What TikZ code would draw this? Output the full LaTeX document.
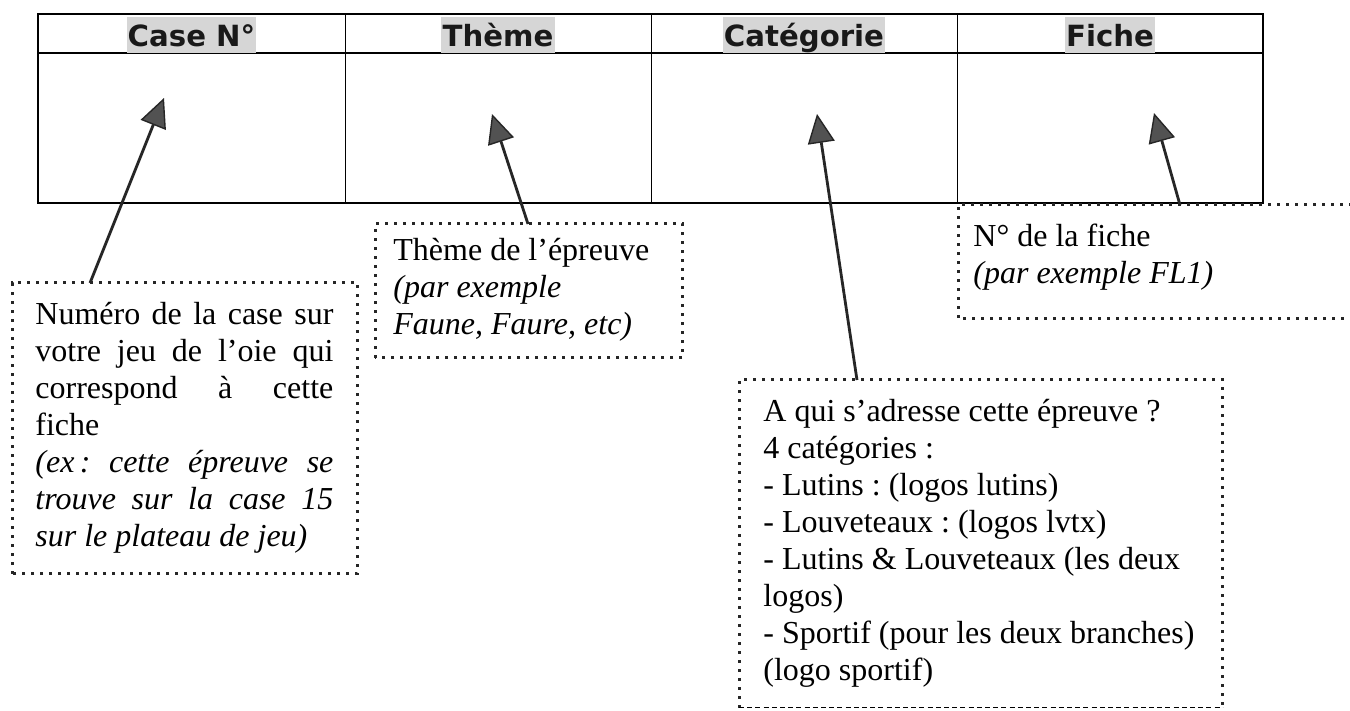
\documentclass[tikz,border=0pt]{standalone}
\usepackage{fontspec}
\setmainfont{Liberation Serif}
\newfontfamily\hdrfont{DejaVu Sans}
\usetikzlibrary{arrows.meta}
\begin{document}
\begin{tikzpicture}[x=0.5pt,y=-0.5pt,
  hdr/.style={font=\hdrfont\bfseries\fontsize{14.6pt}{16pt}\selectfont, fill=black!16, inner xsep=0.6pt, inner ysep=0pt, text height=15pt, text depth=3pt, anchor=base, text=black!90},
  box/.style={draw=none, anchor=north west, inner sep=0pt},
  dotb/.style={line width=1.5pt, black!85, dash pattern=on 1.5pt off 3pt},
  txt/.style={inner sep=0pt, anchor=base west, font=\fontsize{16pt}{18.5pt}\selectfont},
  arr/.style={line width=1.4pt, black!85, -{Triangle[length=14.5pt,width=13.5pt,fill=black!68,line width=0.7pt]}},
  tline/.style={line width=0.9pt},
  vline/.style={line width=0.45pt}]
\useasboundingbox (0,0) rectangle (1350,711);
\fill[white] (0,0) rectangle (1350,711);
% table
\draw[tline] (38,14) rectangle (1263,203);
\draw[tline] (38,53) -- (1263,53);
\foreach \x in {345,651,957} \draw[vline] (\x,14) -- (\x,203);
% headers
\node[hdr] (h1) at (191.5,47) {Case N°};
\node[hdr] (h2) at (498,47) {Thème};
\node[hdr] (h3) at (804,47) {Catégorie};
\node[hdr] (h4) at (1110,47) {Fiche};
% arrow tips inside the cells
\coordinate (caset) at (164,98);
\coordinate (themet) at (492,114);
\coordinate (catt) at (817,114);
\coordinate (fichet) at (1154,113);
% boxes
\node[box, minimum width=172.5pt, minimum height=145pt] (case) at (12,283) {};
\node[box, minimum width=153.5pt, minimum height=66.5pt] (theme) at (375,224) {};
\node[box, minimum width=201pt, minimum height=56.5pt] (fiche) at (958,205) {};
\node[box, minimum width=241.5pt, minimum height=163.5pt] (cat) at (739,380) {};
\draw[dotb] (case.south west) rectangle (case.north east);
\draw[dotb] (theme.south west) rectangle (theme.north east);
\draw[dotb] (fiche.north east) -- (fiche.north west) -- (fiche.south west) -- (fiche.south east);
\draw[dotb] (cat.south west) -- (cat.north west) -- (cat.north east) -- (cat.south east);
\draw[line width=0.5pt, dash pattern=on 2.5pt off 1.6pt] (cat.south west) -- (cat.south east);
% texts
\node[txt] (casetxt) at ([xshift=11.5pt,yshift=-21pt]case.north west) {\parbox[t]{149pt}{\frenchspacing\tolerance=10000
Numéro de la case sur\linebreak votre jeu de l’oie qui\linebreak correspond à cette\linebreak
fiche\\
\itshape (ex\,: cette épreuve se\linebreak trouve sur la case 15\linebreak sur le plateau de jeu)}};
\node[txt] (themetxt) at ([xshift=9pt,yshift=-18.5pt]theme.north west) {\parbox[t]{145pt}{Thème de l’épreuve\\
\itshape (par exemple\\ Faune, Faure, etc)}};
\node[txt] (fichetxt) at ([xshift=7.5pt,yshift=-21pt]fiche.north west) {\parbox[t]{180pt}{N° de la fiche\\
\itshape (par exemple FL1)}};
\node[txt] (cattxt) at ([xshift=12pt,yshift=-21pt]cat.north west) {\parbox[t]{235pt}{\frenchspacing A qui s’adresse cette épreuve ?\\
4 catégories :\\
- Lutins : (logos lutins)\\
- Louveteaux : (logos lvtx)\\
- Lutins \& Louveteaux (les deux\\
logos)\\
- Sportif (pour les deux branches)\\
(logo sportif)}};
% arrows
\draw[arr] ([xshift=39pt]case.north west) -- (caset);
\draw[arr] ([xshift=76.5pt]theme.north west) -- (themet);
\draw[arr] ([xshift=59pt]cat.north west) -- (catt);
\draw[arr] ([xshift=111pt]fiche.north west) -- (fichet);
\end{tikzpicture}
\end{document}
